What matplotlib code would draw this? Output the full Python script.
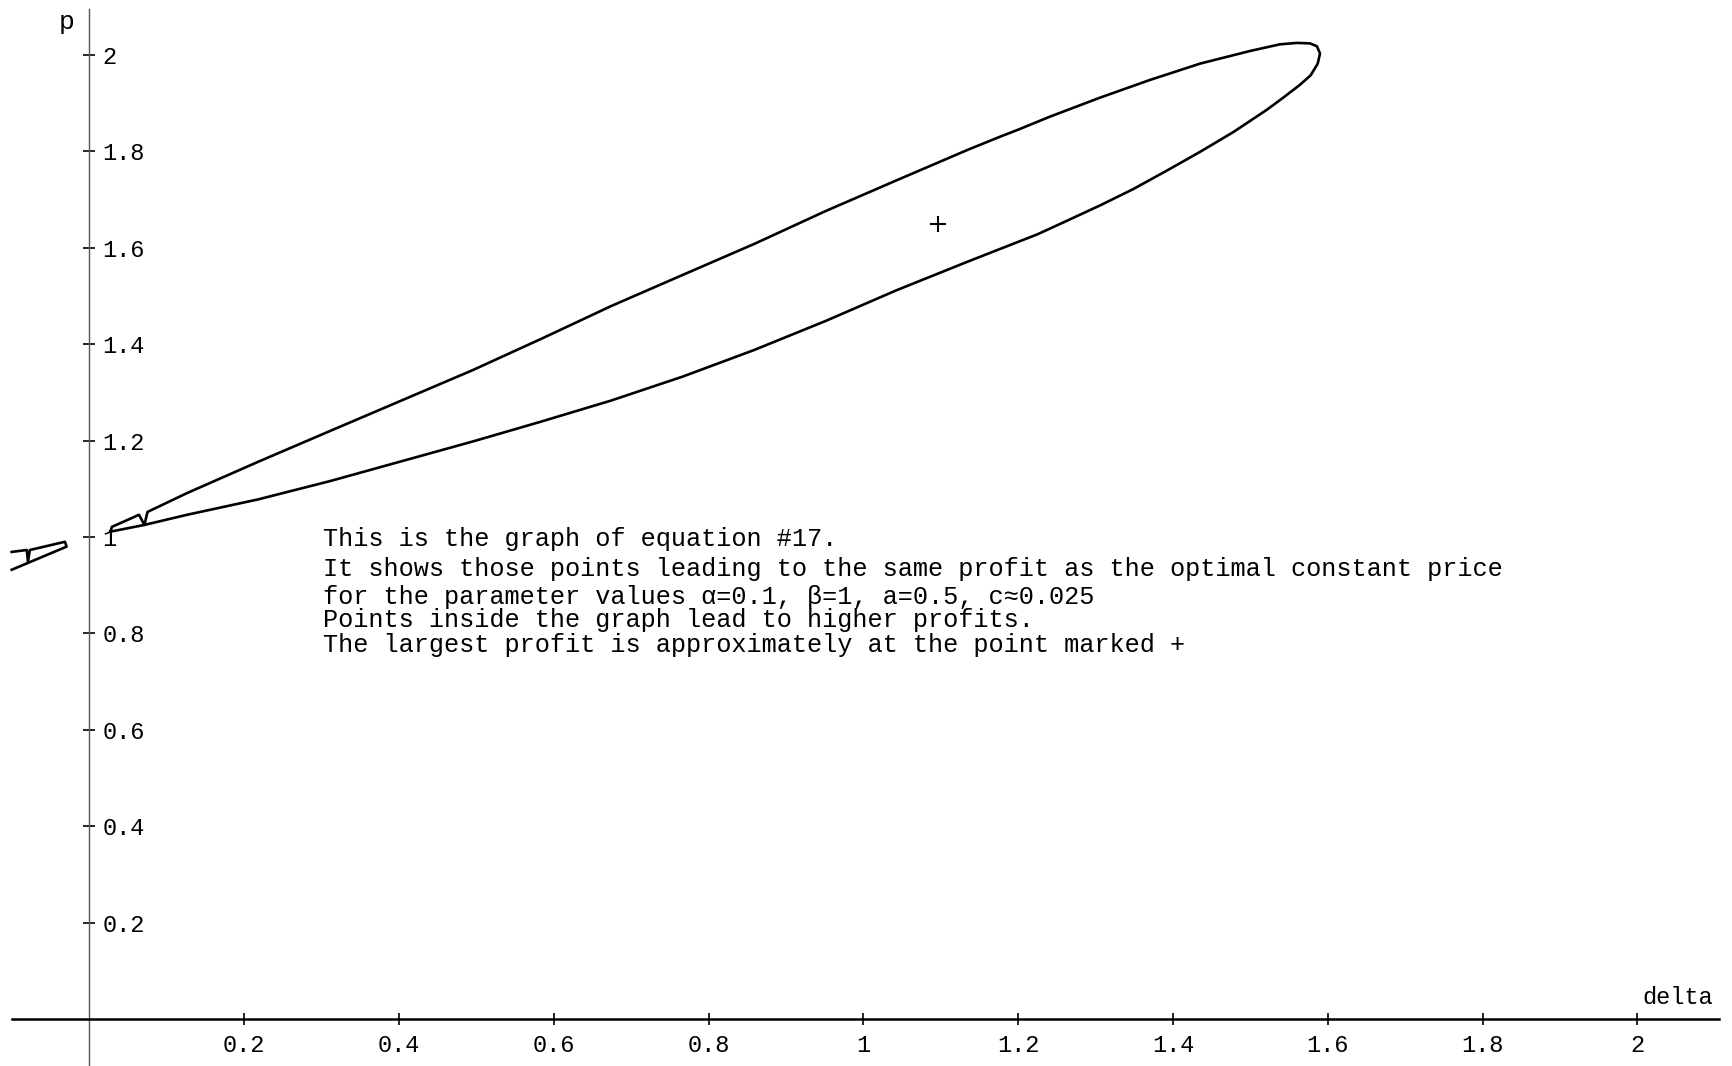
import matplotlib
matplotlib.use("Agg")
import matplotlib.pyplot as plt

# contour of equation #17: upper branch (left to right), then lower branch back
upper_x = [0.027, 0.029, 0.064, 0.071, 0.075, 0.126, 0.218, 0.311, 0.403, 0.495,
           0.585, 0.674, 0.767, 0.859, 0.951, 1.043, 1.136, 1.176, 1.200, 1.241,
           1.305, 1.370, 1.435, 1.499, 1.538, 1.560, 1.577, 1.586, 1.590]
upper_y = [1.011, 1.021, 1.046, 1.025, 1.052, 1.091, 1.156, 1.220, 1.283, 1.346,
           1.412, 1.479, 1.544, 1.608, 1.676, 1.740, 1.804, 1.830, 1.845, 1.872,
           1.911, 1.948, 1.982, 2.008, 2.022, 2.025, 2.024, 2.018, 2.003]
lower_x = [1.587, 1.578, 1.564, 1.543, 1.521, 1.478, 1.435, 1.392, 1.349, 1.306,
           1.263, 1.225, 1.136, 1.043, 0.951, 0.859, 0.767, 0.674, 0.585, 0.495,
           0.403, 0.311, 0.218, 0.126, 0.071, 0.027]
lower_y = [1.982, 1.958, 1.938, 1.912, 1.886, 1.840, 1.799, 1.760, 1.722, 1.688,
           1.656, 1.628, 1.572, 1.512, 1.448, 1.388, 1.333, 1.283, 1.240, 1.198,
           1.157, 1.116, 1.078, 1.046, 1.025, 1.011]

# stray piece left of the p axis
stray_x = [-0.1005, -0.081, -0.0795, -0.077, -0.0317, -0.0295, -0.1005]
stray_y = [0.969, 0.973, 0.949, 0.973, 0.990, 0.980, 0.932]

# approximate maximum
best_x, best_y = 1.096, 1.65

xticks = [0.2, 0.4, 0.6, 0.8, 1.0, 1.2, 1.4, 1.6, 1.8, 2.0]
xtick_labels = ["0.2", "0.4", "0.6", "0.8", "1", "1.2", "1.4", "1.6", "1.8", "2"]
yticks = [0.2, 0.4, 0.6, 0.8, 1.0, 1.2, 1.4, 1.6, 1.8, 2.0]
ytick_labels = ["0.2", "0.4", "0.6", "0.8", "1", "1.2", "1.4", "1.6", "1.8", "2"]

note_lines = [
    "This is the graph of equation #17.",
    "It shows those points leading to the same profit as the optimal constant price",
    "for the parameter values \u03b1=0.1, \u03b2=1, a=0.5, c\u22480.025",
    "Points inside the graph lead to higher profits.",
    "The largest profit is approximately at the point marked +",
]
note_y = [0.996, 0.934, 0.876, 0.828, 0.776]

mono = "Liberation Mono"

fig = plt.figure(figsize=(17.33, 10.66), dpi=100)
ax = fig.add_axes([0, 0, 1, 1])
ax.set_xlim(-0.1156, 2.1236)
ax.set_ylim(-0.0975, 2.114)

loop_x = upper_x + lower_x
loop_y = upper_y + lower_y
ax.plot(loop_x, loop_y, color="black", lw=1.9, solid_joinstyle="round")
ax.plot(stray_x, stray_y, color="black", lw=1.9, solid_joinstyle="round")
ax.plot([best_x], [best_y], marker="+", color="black", ms=11, mew=1.5)

# axes through the origin
for s in ["top", "right"]:
    ax.spines[s].set_visible(False)
ax.spines["left"].set_position(("data", 0))
ax.spines["bottom"].set_position(("data", 0))
ax.spines["left"].set_bounds(-0.0975, 2.095)
ax.spines["bottom"].set_bounds(-0.1, 2.105)
ax.spines["left"].set_color("#555555")
ax.spines["left"].set_linewidth(1.0)
ax.spines["bottom"].set_linewidth(1.8)

ax.set_xticks(xticks)
ax.set_xticklabels(xtick_labels, family=mono, fontsize=17)
ax.set_yticks(yticks)
ax.set_yticklabels(ytick_labels, family=mono, fontsize=17, ha="left")
ax.tick_params(axis="x", direction="inout", length=9, width=1.2, pad=6)
ax.tick_params(axis="y", direction="inout", length=9, width=1.2, pad=-14)

ax.text(-0.030, 2.069, "p", family=mono, fontsize=19, ha="center", va="center")
ax.text(2.052, 0.044, "delta", family=mono, fontsize=17, ha="center", va="center")

for line, yy in zip(note_lines, note_y):
    ax.text(0.302, yy, line, family=mono, fontsize=18.2, ha="left", va="center")

fig.savefig("out.png", dpi=100, facecolor="white")
